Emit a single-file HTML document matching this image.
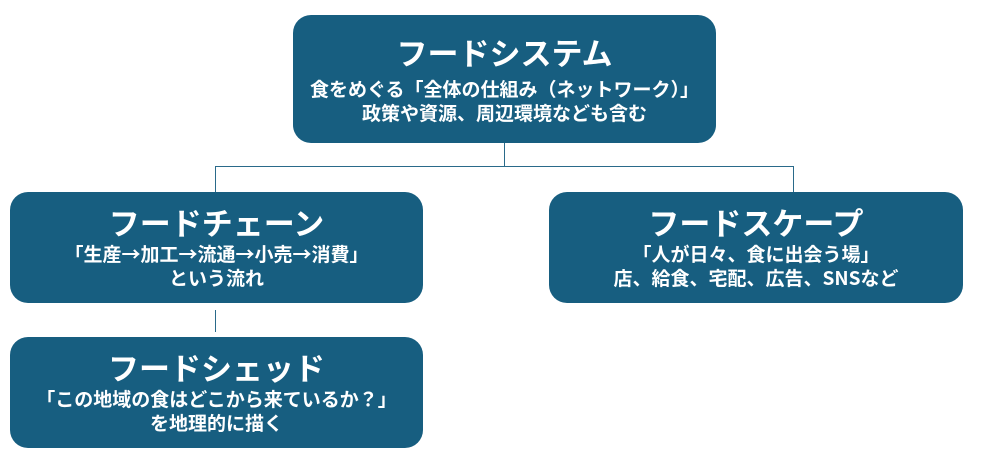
<!DOCTYPE html>
<html><head><meta charset="utf-8"><style>
body{margin:0;width:987px;height:465px;background:#fff;position:relative;overflow:hidden;font-family:"Liberation Sans","Noto Sans CJK JP",sans-serif;}
.b{position:absolute;background:#175e80;border-radius:18px;color:#fff;text-align:center;box-sizing:border-box;}
.t{font-size:31px;font-weight:bold;line-height:44px;font-family:"Noto Sans CJK JP",sans-serif;}
.s{font-size:19px;font-weight:bold;line-height:24px;font-family:"Noto Sans CJK JP",sans-serif;}
.l{position:absolute;background:#2a6a8a;}
</style></head><body>
<div class="b" style="left:293px;top:15px;width:423px;height:128px;padding-top:15px">
<div class="t">フードシステム</div>
<div class="s" style="margin-top:3px">食をめぐる「全体の仕組み（ネットワーク）」<br>政策や資源、周辺環境なども含む</div></div>
<div class="l" style="left:504px;top:143px;width:1px;height:24px"></div>
<div class="l" style="left:215px;top:166px;width:579px;height:1px"></div>
<div class="l" style="left:215px;top:166px;width:1px;height:26px"></div>
<div class="l" style="left:793px;top:166px;width:1px;height:26px"></div>
<div class="b" style="left:10px;top:192px;width:413px;height:111px;padding-top:8px">
<div class="t">フードチェーン</div>
<div class="s" style="margin-top:-2px">「生産→加工→流通→小売→消費」<br>という流れ</div></div>
<div class="b" style="left:549px;top:192px;width:414px;height:111px;padding-top:8px">
<div class="t">フードスケープ</div>
<div class="s" style="margin-top:-2px">「人が日々、食に出会う場」<br>店、給食、宅配、広告、SNSなど</div></div>
<div class="l" style="left:215px;top:310px;width:1px;height:22px"></div>
<div class="b" style="left:10px;top:337px;width:413px;height:111px;padding-top:8px">
<div class="t">フードシェッド</div>
<div class="s" style="margin-top:-2px">「この地域の食はどこから来ているか？」<br>を地理的に描く</div></div>
</body></html>
